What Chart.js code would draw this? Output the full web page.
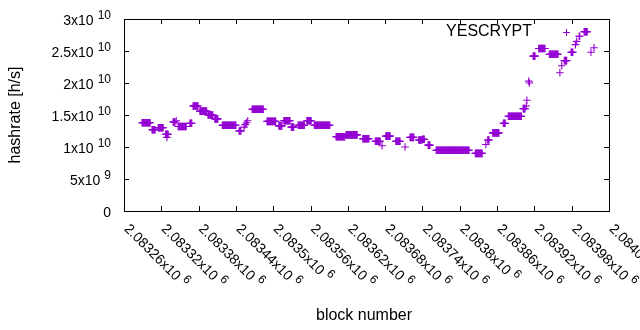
<!DOCTYPE html>
<html>
<head>
<meta charset="utf-8">
<script src="https://cdn.jsdelivr.net/npm/chart.js@4.4.0/dist/chart.umd.min.js"></script>
<style>
  html, body { margin: 0; padding: 0; background: #fff; }
  canvas { display: block; }
</style>
</head>
<body>
<canvas id="hashChart" width="640" height="330"></canvas>
<script>
// hashrate: every block from runStart to runEnd has runValue (x10^9 h/s)
var runStart = [2083289, 2083305, 2083315, 2083327, 2083329, 2083339, 2083344, 2083347, 2083366, 2083371,
                2083382, 2083395, 2083406, 2083418, 2083445, 2083453, 2083455, 2083457, 2083459, 2083466,
                2083490, 2083509, 2083517, 2083529, 2083540, 2083554, 2083566, 2083601, 2083617, 2083644,
                2083664, 2083675, 2083681, 2083697, 2083712, 2083720, 2083734, 2083740, 2083749, 2083762,
                2083825, 2083842, 2083845, 2083853, 2083870, 2083878, 2083902, 2083907, 2083908, 2083911,
                2083912, 2083918, 2083927, 2083944, 2083961, 2083964, 2083968, 2083979, 2083986, 2083988,
                2083992, 2084000, 2084011, 2084016];
var runEnd   = [2083302, 2083310, 2083323, 2083331, 2083329, 2083342, 2083344, 2083360, 2083369, 2083379,
                2083393, 2083403, 2083411, 2083440, 2083448, 2083453, 2083455, 2083457, 2083459, 2083484,
                2083504, 2083514, 2083527, 2083533, 2083550, 2083561, 2083591, 2083615, 2083635, 2083654,
                2083672, 2083675, 2083688, 2083704, 2083712, 2083726, 2083739, 2083743, 2083752, 2083815,
                2083836, 2083842, 2083847, 2083863, 2083873, 2083899, 2083905, 2083907, 2083908, 2083911,
                2083912, 2083921, 2083937, 2083958, 2083961, 2083964, 2083972, 2083982, 2083986, 2083988,
                2083993, 2084005, 2084011, 2084016];
var runValue = [13.8, 12.7, 13.0, 12.0, 11.5, 13.9, 14.1, 13.2, 13.7, 16.4,
                15.6, 15.0, 14.4, 13.4, 12.5, 13.1, 13.5, 13.8, 14.1, 15.9,
                14.0, 13.3, 14.1, 13.1, 13.4, 14.1, 13.4, 11.6, 11.9, 11.3,
                10.9, 10.2, 11.7, 10.9, 10.0, 11.5, 11.1, 11.2, 10.3, 9.5,
                9.0, 10.4, 11.1, 12.2, 13.7, 14.8, 16.0, 16.4, 17.3, 20.3,
                20.0, 24.2, 25.4, 24.5, 21.6, 22.7, 23.5, 24.8, 26.0, 26.5,
                27.3, 28.0, 24.8, 25.5];

var xTicks = [2083260, 2083320, 2083380, 2083440, 2083500, 2083560, 2083620,
              2083680, 2083740, 2083800, 2083860, 2083920, 2083980, 2084040];
var xTickMant = ['2.08326', '2.08332', '2.08338', '2.08344', '2.0835', '2.08356', '2.08362',
                 '2.08368', '2.08374', '2.0838', '2.08386', '2.08392', '2.08398', '2.08404'];
var yTicks = [0, 5e9, 1e10, 1.5e10, 2e10, 2.5e10, 3e10];
var yTickMant = ['0', '5x10', '1x10', '1.5x10', '2x10', '2.5x10', '3x10'];
var yTickExp = ['', '9', '10', '10', '10', '10', '10'];

var points = [];
for (var i = 0; i < runStart.length; i++) {
    for (var b = runStart[i]; b <= runEnd[i]; b++) {
        points.push({ x: b, y: runValue[i] * 1e9 });
    }
}

var FONT = '"Liberation Sans", Arial, sans-serif';
var PURPLE = '#9400d3';

// gnuplot style frame, inward ticks, labels with exponents, key
var gnuplotFrame = {
    id: 'gnuplotFrame',
    afterDraw: function (chart) {
        var c = chart.ctx, a = chart.chartArea;
        var xs = chart.scales.x, ys = chart.scales.y;
        var L = Math.round(a.left), R = Math.round(a.right), T = Math.round(a.top), B = Math.round(a.bottom);
        c.save();
        c.strokeStyle = '#000';
        c.lineWidth = 1;
        c.strokeRect(L + 0.5, T + 0.5, R - L, B - T);

        c.beginPath();
        yTicks.forEach(function (v) {
            var py = Math.round(ys.getPixelForValue(v)) + 0.5;
            c.moveTo(L, py); c.lineTo(L + 5, py);
            c.moveTo(R, py); c.lineTo(R - 5, py);
        });
        xTicks.forEach(function (v) {
            var px = Math.round(xs.getPixelForValue(v)) + 0.5;
            c.moveTo(px, B); c.lineTo(px, B - 5);
            c.moveTo(px, T); c.lineTo(px, T + 5);
        });
        c.stroke();

        c.fillStyle = '#000';
        c.textBaseline = 'alphabetic';
        yTicks.forEach(function (v, i) {
            var py = ys.getPixelForValue(v);
            var exp = yTickExp[i];
            c.font = '12px ' + FONT;
            var ew = exp ? c.measureText(exp).width + 4 : 0;
            var right = 111 - ew;
            c.font = '14px ' + FONT;
            c.textAlign = 'right';
            c.fillText(yTickMant[i], right, py + 6);
            if (exp) {
                c.font = '12px ' + FONT;
                c.textAlign = 'left';
                c.fillText(exp, right + 4, py);
            }
        });

        xTicks.forEach(function (v, i) {
            var px = xs.getPixelForValue(v);
            var txt = xTickMant[i] + 'x10';
            c.save();
            c.translate(px + 3, B + 15);
            c.rotate(Math.PI / 4);
            c.font = '14px ' + FONT;
            c.textAlign = 'left';
            c.fillText(txt, 0, 5);
            var w = c.measureText(txt).width;
            c.font = '12px ' + FONT;
            c.fillText('6', w + 4, -1);
            c.restore();
        });

        c.font = '16px ' + FONT;
        c.textAlign = 'center';
        c.textBaseline = 'middle';
        c.fillText('block number', 364, 316);
        c.save();
        c.translate(16, 115);
        c.rotate(-Math.PI / 2);
        c.fillText('hashrate [h/s]', 0, 0);
        c.restore();

        c.textAlign = 'right';
        c.fillText(chart.data.datasets[0].label, 532, 32);
        c.strokeStyle = PURPLE;
        Chart.helpers.drawPoint(c, { pointStyle: 'cross', radius: 3.5, borderWidth: 1 }, 566.5, 32.5);
        c.restore();
    }
};

var ctx = document.getElementById('hashChart').getContext('2d');
var hashChart = new Chart(ctx, {
    type: 'scatter',
    data: {
        datasets: [{
            label: 'YESCRYPT',
            data: points,
            pointStyle: 'cross',
            pointRadius: 3.8,
            borderWidth: 1.1,
            borderColor: PURPLE,
            backgroundColor: PURPLE
        }]
    },
    options: {
        responsive: false,
        animation: false,
        layout: { padding: { left: 124, top: 19, right: 31, bottom: 119 } },
        plugins: {
            legend: { display: false },
            tooltip: { enabled: false }
        },
        scales: {
            x: { type: 'linear', display: false, min: 2083260, max: 2084040 },
            y: { type: 'linear', display: false, min: 0, max: 3e10 }
        }
    },
    plugins: [gnuplotFrame]
});
</script>
</body>
</html>
